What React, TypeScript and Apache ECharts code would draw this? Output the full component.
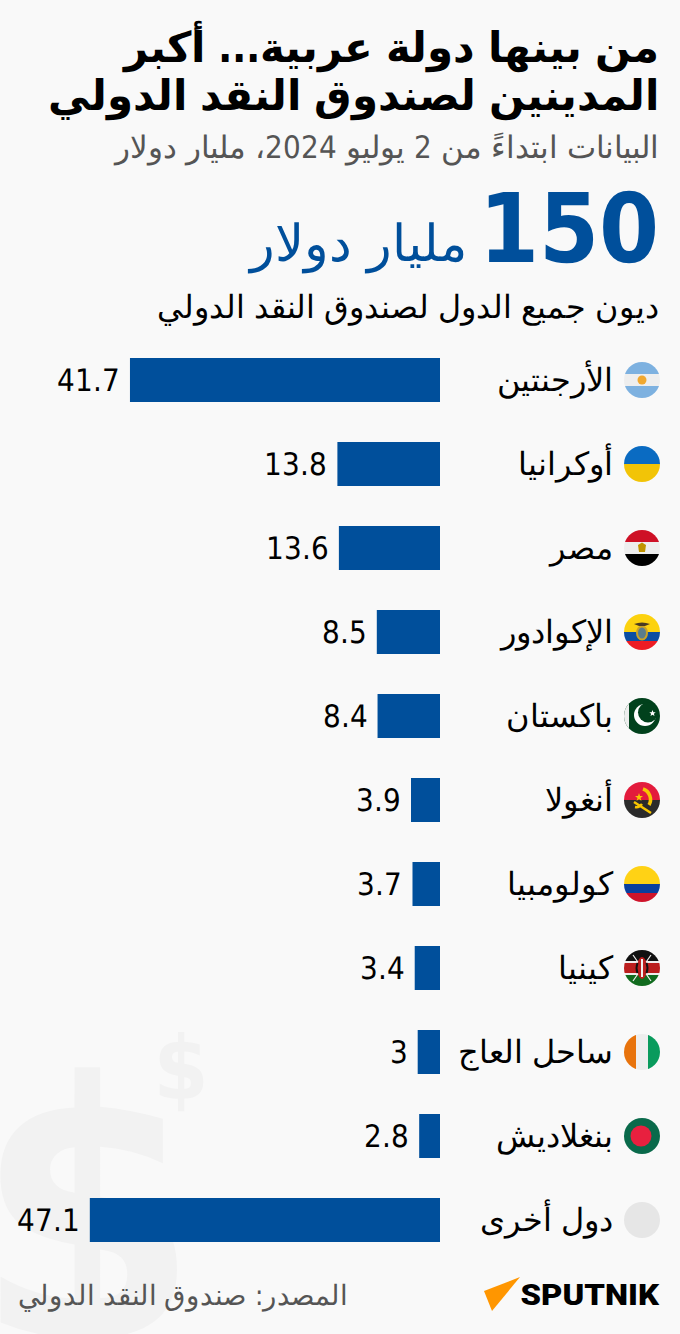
import React, { useEffect, useRef } from "react";
import * as echarts from "echarts";

const categories = ["الأرجنتين", "أوكرانيا", "مصر", "الإكوادور", "باكستان", "أنغولا", "كولومبيا", "كينيا", "ساحل العاج", "بنغلاديش", "دول أخرى"];
const values = [41.7, 13.8, 13.6, 8.5, 8.4, 3.9, 3.7, 3.4, 3, 2.8, 47.1];
const FONT = "MixAr, 'DejaVu Sans'";
const BLUE = "#004f9b";

const fontCss = `
@font-face{font-family:MixAr;font-weight:400;src:local("DejaVu Sans Condensed");unicode-range:U+0000-05FF,U+2000-206F;}
@font-face{font-family:MixAr;font-weight:400;src:local("DejaVu Sans");unicode-range:U+0600-06FF,U+FB50-FDFF,U+FE70-FEFF;}
@font-face{font-family:MixAr;font-weight:700;src:local("DejaVu Sans Condensed Bold");unicode-range:U+0000-05FF,U+2000-206F;}
@font-face{font-family:MixAr;font-weight:700;src:local("DejaVu Sans Bold");unicode-range:U+0600-06FF,U+FB50-FDFF,U+FE70-FEFF;}
`;

const wrap = (inner: string) =>
  "data:image/svg+xml;utf8," +
  encodeURIComponent(
    `<svg xmlns="http://www.w3.org/2000/svg" width="36" height="36" viewBox="0 0 36 36"><defs><clipPath id="c"><circle cx="18" cy="18" r="18"/></clipPath></defs><g clip-path="url(#c)">${inner}</g></svg>`
  );
const r = (x: number, y: number, w: number, h: number, f: string) => `<rect x="${x}" y="${y}" width="${w}" height="${h}" fill="${f}"/>`;

const flags = [
  wrap(r(0, 0, 36, 12, "#7db1e0") + r(0, 12, 36, 12, "#eeeeee") + r(0, 24, 36, 12, "#7db1e0") + `<circle cx="18" cy="18" r="4.5" fill="#f0a830"/>`),
  wrap(r(0, 0, 36, 18, "#0a6bc2") + r(0, 18, 36, 18, "#f2c407")),
  wrap(r(0, 0, 36, 12, "#ce1126") + r(0, 12, 36, 12, "#eeeeee") + r(0, 24, 36, 12, "#000000") + `<path d="M18 12.500l4 2.500-1 7h-6l-1-7z" fill="#c09300"/>`),
  wrap(r(0, 0, 36, 18, "#fcd20f") + r(0, 18, 36, 9, "#0b4ea2") + r(0, 27, 36, 9, "#ed1c24") + `<ellipse cx="18" cy="19" rx="5" ry="6.500" fill="#5a7d8c" stroke="#c9a227" stroke-width="2"/><path d="M10 10q8-3 16 0l-5 2h-6z" fill="#4a3b22"/>`),
  wrap(r(0, 0, 36, 36, "#01411c") + r(0, 0, 5, 36, "#eeeeee") + `<circle cx="21" cy="17" r="11" fill="#ffffff"/><circle cx="24" cy="14.5" r="10" fill="#01411c"/><path d="M28.500 12l.9 2.200 2.300.1-1.800 1.500.6 2.300-2-1.300-2 1.300.6-2.300-1.800-1.500 2.300-.1z" fill="#ffffff"/>`),
  wrap(r(0, 0, 36, 18, "#e31b3c") + r(0, 18, 36, 18, "#2b2b2b") + `<path d="M19 7a11 11 0 0 1 6 16" fill="none" stroke="#f7c600" stroke-width="3.500"/><path d="M10 20l17 11" stroke="#f7c600" stroke-width="2.500"/><path d="M11 25q4 1 7-3" fill="none" stroke="#f7c600" stroke-width="2.500"/><path d="M15 11l1 3h3l-2.500 2 1 3-2.500-2-2.500 2 1-3-2.500-2h3z" fill="#f7c600"/>`),
  wrap(r(0, 0, 36, 18, "#ffd215") + r(0, 18, 36, 9, "#0a3f9e") + r(0, 27, 36, 9, "#cf142b")),
  wrap(r(0, 0, 36, 11, "#111111") + r(0, 11, 36, 2, "#eeeeee") + r(0, 13, 36, 10, "#bb1e1e") + r(0, 23, 36, 2, "#eeeeee") + r(0, 25, 36, 11, "#116b1e") + `<path d="M9 5l18 26M27 5L9 31" stroke="#eeeeee" stroke-width="1.200"/><ellipse cx="18" cy="18" rx="5" ry="11" fill="#bb1e1e"/><path d="M18 9v18" stroke="#eeeeee" stroke-width="2"/><path d="M13.500 13q-2 5 0 10M22.500 13q2 5 0 10" stroke="#111111" stroke-width="2" fill="none"/>`),
  wrap(r(0, 0, 12, 36, "#e8730c") + r(12, 0, 12, 36, "#eeeeee") + r(24, 0, 12, 36, "#0a9b5d")),
  wrap(r(0, 0, 36, 36, "#0a6a4b") + `<circle cx="17" cy="18" r="10.500" fill="#e8203f"/>`),
  wrap(r(0, 0, 36, 36, "#e6e6e6")),
];

const txt = (x: number, y: number, text: string, fontSize: number, fill: string, fontWeight: any = "normal", textAlign = "right", fontFamily = FONT) => ({
  type: "text",
  x,
  y,
  silent: true,
  style: { text, fontSize, fill, fontWeight, fontFamily, align: textAlign, verticalAlign: "middle" },
});

export default function App() {
  const ref = useRef<HTMLDivElement>(null);
  useEffect(() => {
    document.body.style.margin = "0";
    const css = document.createElement("style");
    css.textContent = fontCss;
    document.head.appendChild(css);
    const chart = echarts.init(ref.current!, undefined, { renderer: "svg" });
    chart.setOption({
      animation: false,
      backgroundColor: "#f9f9f9",
      grid: { left: 40, width: 400, top: 338, height: 924 },
      xAxis: { type: "value", inverse: true, min: 0, max: 53.8, show: false },
      yAxis: {
        type: "category",
        inverse: true,
        position: "right",
        data: categories,
        axisLine: { show: false },
        axisTick: { show: false },
        splitLine: { show: false },
        axisLabel: { margin: 173, align: "right", fontSize: 32, color: "#000000", fontFamily: FONT },
      },
      series: [
        {
          type: "bar",
          data: values,
          barWidth: 44,
          itemStyle: { color: BLUE },
          label: { show: true, position: "left", distance: 10, fontSize: 31, color: "#000000", fontFamily: FONT },
        },
      ],
      graphic: [
        { ...txt(181, 1067, "$", 88, "#f2f2f2", "bold", "center", "'DejaVu Sans Condensed'"), z: -1 },
        { ...txt(87, 1215, "$", 357, "#f2f2f2", "bold", "center", "'DejaVu Sans Condensed'"), z: -1 },
        txt(659, 47, "من بينها دولة عربية... أكبر", 42, "#000000", "bold"),
        txt(659, 95, "المدينين لصندوق النقد الدولي", 42, "#000000", "bold"),
        txt(659, 147, "البيانات ابتداءً من 2 يوليو 2024، مليار دولار", 31, "#555555"),
        txt(659, 229, "150", 96, BLUE, "bold"),
        txt(467, 243, "مليار دولار", 51, BLUE),
        { ...txt(659, 307, "ديون جميع الدول لصندوق النقد الدولي", 32, "#000000"), scaleX: 0.992 },
        { ...txt(348, 1295, "المصدر: صندوق النقد الدولي", 28, "#555555"), scaleX: 0.985 },
        ...flags.map((image, i) => ({
          type: "image",
          silent: true,
          style: { image, x: 624, y: 362 + 84 * i, width: 36, height: 36 },
        })),
        { type: "polygon", silent: true, shape: { points: [[520, 1277], [484, 1291], [492, 1311]] }, style: { fill: "#ff9600" } },
        { ...txt(659, 1295, "SPUTNIK", 30, "#000000", 900, "right", "Roboto"), scaleX: 1.095 },
      ],
    });
    return () => chart.dispose();
  }, []);
  return <div ref={ref} style={{ width: 680, height: 1334 }} />;
}
